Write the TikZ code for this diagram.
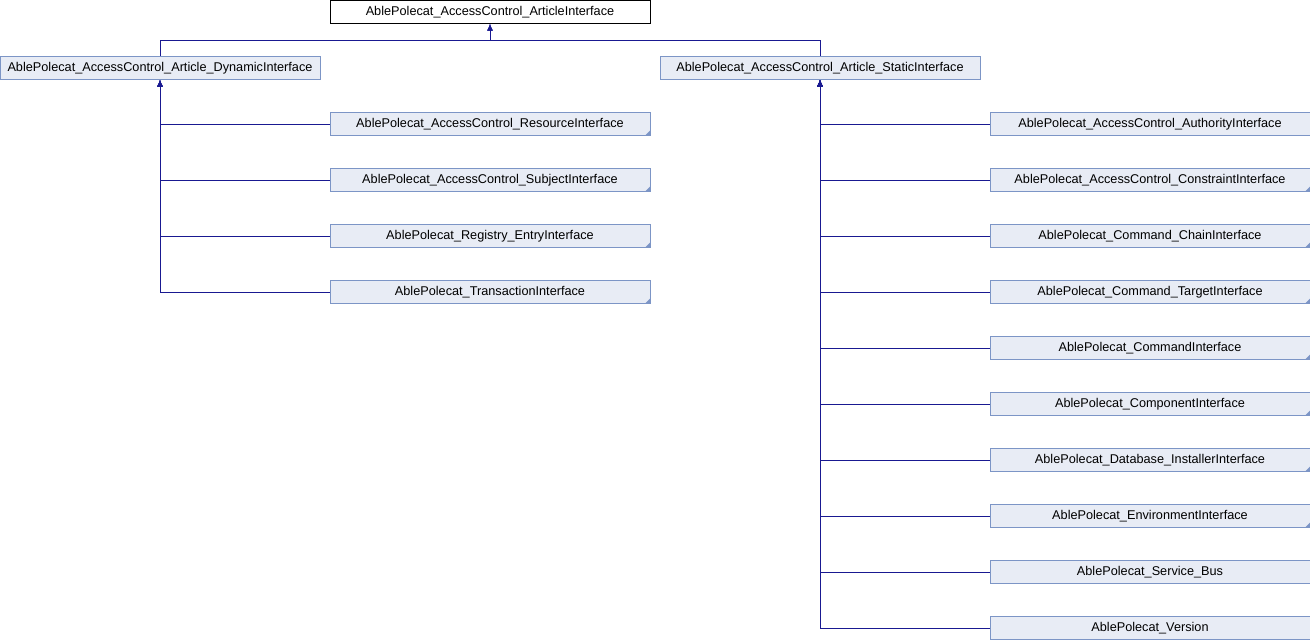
\documentclass[tikz,border=0pt]{standalone}
\usepackage{fontspec}
\setmainfont{Liberation Sans}
\usetikzlibrary{arrows.meta}
\definecolor{edgeblue}{RGB}{25,25,145}
\definecolor{boxline}{RGB}{124,149,198}
\definecolor{boxfill}{RGB}{232,236,245}
\begin{document}
\begin{tikzpicture}[
  x=1pt, y=-1pt,
  root/.style={rectangle, draw=black, fill=white, minimum width=320pt, minimum height=23pt, inner sep=0pt, font=\fontsize{12.7}{14}\selectfont},
  cls/.style={rectangle, draw=boxline, fill=boxfill, minimum width=320pt, minimum height=23pt, inner sep=0pt, font=\fontsize{12.7}{14}\selectfont},
  more/.style={cls, path picture={\fill[boxline] ([xshift=-5pt]path picture bounding box.south east) -- (path picture bounding box.south east) -- ([yshift=5pt]path picture bounding box.south east) -- cycle;}},
  arrow/.style={<-, >={Latex[length=7pt,width=6pt]}, draw=edgeblue, line width=0.9pt}
]
  \useasboundingbox (0,0) rectangle (1310,640);
  % base and the two direct children
  \node[root] (art) at (490,12) {AblePolecat\_AccessControl\_ArticleInterface};
  \node[cls] (dyn) at (160,68) {AblePolecat\_AccessControl\_Article\_DynamicInterface};
  \node[cls] (stat) at (820,68) {AblePolecat\_AccessControl\_Article\_StaticInterface};
  \draw[arrow] (art.south) -- ++(0,17) -| (dyn.north);
  \draw[arrow] (art.south) -- ++(0,17) -| (stat.north);
  % dynamic side
  \node[more] (res) at (490,124) {AblePolecat\_AccessControl\_ResourceInterface};
  \node[more] (subj) at (490,180) {AblePolecat\_AccessControl\_SubjectInterface};
  \node[more] (reg) at (490,236) {AblePolecat\_Registry\_EntryInterface};
  \node[more] (trans) at (490,292) {AblePolecat\_TransactionInterface};
  \draw[arrow] (dyn.south) |- (res.west);
  \draw[arrow] (dyn.south) |- (subj.west);
  \draw[arrow] (dyn.south) |- (reg.west);
  \draw[arrow] (dyn.south) |- (trans.west);
  % static side
  \node[cls] (auth) at (1150,124) {AblePolecat\_AccessControl\_AuthorityInterface};
  \node[more] (cons) at (1150,180) {AblePolecat\_AccessControl\_ConstraintInterface};
  \node[more] (chain) at (1150,236) {AblePolecat\_Command\_ChainInterface};
  \node[more] (targ) at (1150,292) {AblePolecat\_Command\_TargetInterface};
  \node[more] (cmd) at (1150,348) {AblePolecat\_CommandInterface};
  \node[more] (comp) at (1150,404) {AblePolecat\_ComponentInterface};
  \node[more] (inst) at (1150,460) {AblePolecat\_Database\_InstallerInterface};
  \node[more] (env) at (1150,516) {AblePolecat\_EnvironmentInterface};
  \node[cls] (bus) at (1150,572) {AblePolecat\_Service\_Bus};
  \node[cls] (ver) at (1150,628) {AblePolecat\_Version};
  \draw[arrow] (stat.south) |- (auth.west);
  \draw[arrow] (stat.south) |- (cons.west);
  \draw[arrow] (stat.south) |- (chain.west);
  \draw[arrow] (stat.south) |- (targ.west);
  \draw[arrow] (stat.south) |- (cmd.west);
  \draw[arrow] (stat.south) |- (comp.west);
  \draw[arrow] (stat.south) |- (inst.west);
  \draw[arrow] (stat.south) |- (env.west);
  \draw[arrow] (stat.south) |- (bus.west);
  \draw[arrow] (stat.south) |- (ver.west);
\end{tikzpicture}
\end{document}
